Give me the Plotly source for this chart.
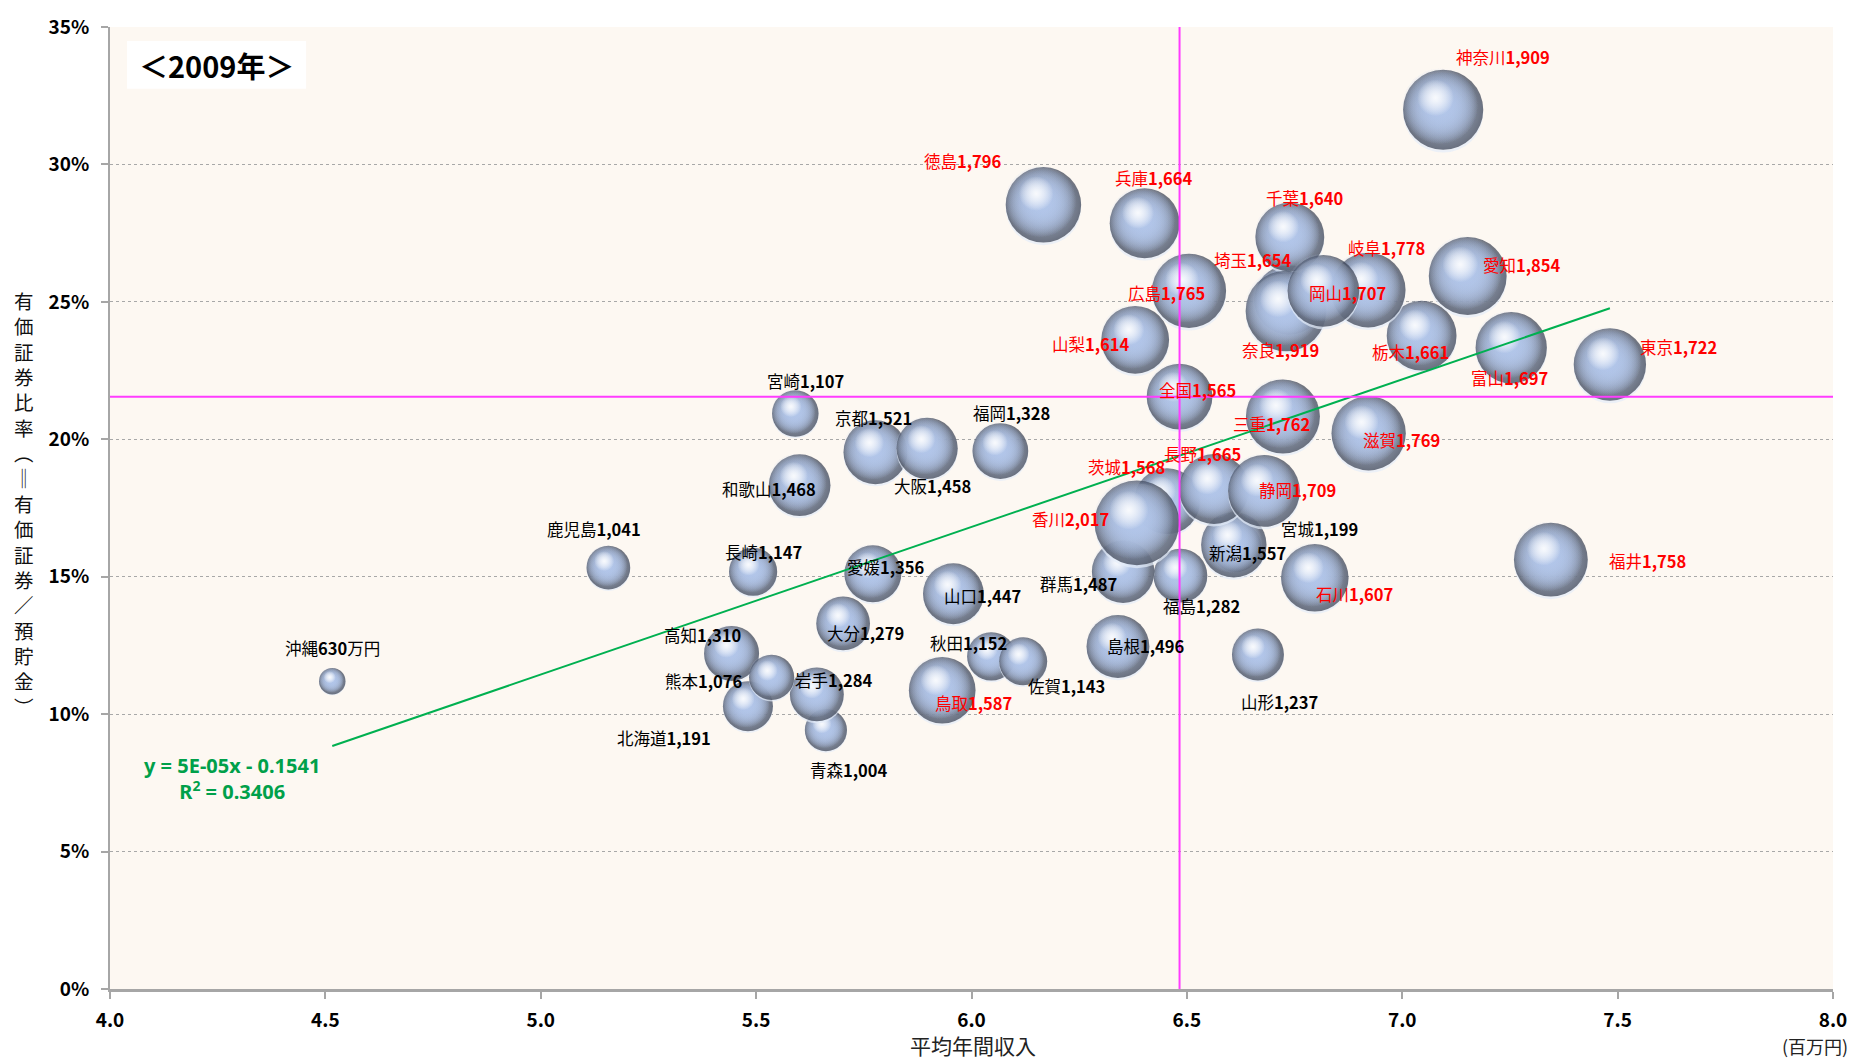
import plotly.graph_objects as go

# ---- data (2009, by prefecture, JIS order) ----
PREFS = ["北海道", "青森", "岩手", "宮城", "秋田", "山形", "福島", "茨城", "栃木", "群馬",
         "埼玉", "千葉", "東京", "神奈川", "新潟", "富山", "石川", "福井", "山梨", "長野",
         "岐阜", "静岡", "愛知", "三重", "滋賀", "京都", "大阪", "兵庫", "奈良", "和歌山",
         "鳥取", "島根", "岡山", "広島", "山口", "徳島", "香川", "愛媛", "高知", "福岡",
         "佐賀", "長崎", "熊本", "大分", "宮崎", "鹿児島", "沖縄"]

# average annual income (百万円)
INCOME = [5.481, 5.662, 5.641, 6.614, 6.046, 6.665, 6.485, 6.454, 7.045, 6.352,
          6.737, 6.739, 7.482, 7.095, 6.609, 7.253, 6.797, 7.345, 6.380, 6.563,
          6.921, 6.679, 7.152, 6.723, 6.922, 5.777, 5.897, 6.402, 6.730, 5.601,
          5.932, 6.340, 6.817, 6.505, 5.958, 6.167, 6.384, 5.771, 5.443, 6.067,
          6.120, 5.493, 5.536, 5.702, 5.591, 5.157, 4.516]

# securities ratio (= securities / savings)
SEC_RATIO = [0.1029, 0.0942, 0.1072, 0.1609, 0.1210, 0.1217, 0.1504, 0.1775, 0.2377, 0.1518,
             0.2507, 0.2736, 0.2272, 0.3199, 0.1616, 0.2333, 0.1496, 0.1562, 0.2362, 0.1819,
             0.2543, 0.1812, 0.2594, 0.2083, 0.2022, 0.1953, 0.1967, 0.2786, 0.2467, 0.1833,
             0.1087, 0.1246, 0.2540, 0.2540, 0.1438, 0.2853, 0.1696, 0.1511, 0.1221, 0.1957,
             0.1192, 0.1518, 0.1134, 0.1330, 0.2094, 0.1533, 0.1120]

# savings (万円) -> bubble size
SAVINGS = [1191, 1004, 1284, 1199, 1152, 1237, 1282, 1568, 1661, 1487,
           1654, 1640, 1722, 1909, 1557, 1697, 1607, 1758, 1614, 1665,
           1778, 1709, 1854, 1762, 1769, 1521, 1458, 1664, 1919, 1468,
           1587, 1496, 1707, 1765, 1447, 1796, 2017, 1356, 1310, 1328,
           1143, 1147, 1076, 1279, 1107, 1041, 630]

NATIONAL_NAME = "全国"
NATIONAL_INCOME = 6.483
NATIONAL_RATIO = 0.2155
NATIONAL_SAVINGS = 1565

YEAR_TITLE = "＜2009年＞"
X_TITLE = "平均年間収入"
X_UNIT = "(百万円)"
Y_TITLE = "有価証券比率（＝有価証券／預貯金）"

# linear trendline (x in 千円), as reported by the spreadsheet fit
TREND_SLOPE = 5.37e-05
TREND_INTERCEPT = -0.1541
TREND_R2 = 0.3406

# ---- layout geometry ----
W, H = 1863, 1062
MARGIN = dict(l=110, r=30, t=23, b=73)
X_RANGE = (4.0, 8.0)
Y_RANGE = (0.0, 0.35)
PX_PER_X = (W - MARGIN["l"] - MARGIN["r"]) / (X_RANGE[1] - X_RANGE[0])
PX_PER_Y = (H - MARGIN["t"] - MARGIN["b"]) / (Y_RANGE[1] - Y_RANGE[0])
PX_PER_SAVING = 0.042          # bubble diameter in px per 万円

LABEL_FONT = "Noto Sans CJK JP"
RED, BLACK = "#FF0000", "#000000"

# label offsets from the bubble centre, in px (x right, y down)
LABEL_OFFSET = {
    "北海道": (-84, 32), "青森": (23, 40), "岩手": (17, -14), "宮城": (84, -18),
    "秋田": (-23, -13), "山形": (22, 47), "福島": (21, 30), "茨城": (-41, -34),
    "栃木": (-11, 16), "群馬": (-45, 12), "埼玉": (-36, -40), "千葉": (15, -39),
    "東京": (69, -18), "神奈川": (60, -53), "新潟": (14, 8), "富山": (-2, 30),
    "石川": (40, 16), "福井": (97, 1), "山梨": (-44, 4), "長野": (-12, -35),
    "岐阜": (18, -42), "静岡": (34, -1), "愛知": (54, -11), "三重": (-11, 8),
    "滋賀": (33, 7), "京都": (-2, -34), "大阪": (5, 38), "兵庫": (9, -45),
    "奈良": (-5, 39), "和歌山": (-31, 4), "鳥取": (31, 13), "島根": (28, -1),
    "岡山": (24, 2), "広島": (-23, 2), "山口": (29, 2), "徳島": (-80, -44),
    "香川": (-66, -4), "愛媛": (13, -7), "高知": (-29, -18), "福岡": (11, -38),
    "佐賀": (43, 25), "長崎": (10, -20), "熊本": (-68, 4), "大分": (22, 10),
    "宮崎": (10, -32), "鹿児島": (-14, -39), "沖縄": (0, -33), "全国": (18, -7),
}
LABEL_SUFFIX = {"沖縄": "万円"}

# sphere shading: (size factor, dx factor, dy factor (down), edge colour, centre colour, gradient)
BODY = "178,198,234"
SPHERE_LAYERS = [
    (1.00, 0.000, 0.035, "#E4ECF9", "#E4ECF9", "none"),
    (1.00, 0.000, 0.000, "#323A4C", "#9CB0D4", "radial"),
    (0.95, -0.040, -0.045, f"rgba({BODY},0)", f"rgba({BODY},1)", "radial"),
    (0.95, -0.040, -0.045, f"rgba({BODY},0)", f"rgba({BODY},1)", "radial"),
    (0.95, -0.040, -0.045, f"rgba({BODY},0)", f"rgba({BODY},1)", "radial"),
    (0.95, -0.040, -0.045, f"rgba({BODY},0)", f"rgba({BODY},1)", "radial"),
    (0.46, -0.095, -0.150, "rgba(255,255,255,0)", "rgba(255,255,255,1)", "radial"),
    (0.46, -0.095, -0.150, "rgba(255,255,255,0)", "rgba(255,255,255,1)", "radial"),
]

names = [NATIONAL_NAME] + PREFS
xs = [NATIONAL_INCOME] + INCOME
ys = [NATIONAL_RATIO] + SEC_RATIO
vals = [NATIONAL_SAVINGS] + SAVINGS

bx, by, bsize, bcolor, bgcol, btype = [], [], [], [], [], []
for x, y, v in zip(xs, ys, vals):
    d = v * PX_PER_SAVING
    for f, fx, fy, edge, centre, gtype in SPHERE_LAYERS:
        bx.append(x + fx * d / PX_PER_X)
        by.append(y - fy * d / PX_PER_Y)
        bsize.append(d * f)
        bcolor.append(edge)
        bgcol.append(centre)
        btype.append(gtype)

fig = go.Figure()
fig.add_trace(go.Scatter(
    x=bx, y=by, mode="markers", hoverinfo="skip", showlegend=False,
    marker=dict(size=bsize, sizemode="diameter", color=bcolor,
                line=dict(width=0),
                gradient=dict(type=btype, color=bgcol)),
))

# trendline over the prefecture range
tx = [min(INCOME), max(INCOME)]
ty = [TREND_SLOPE * v * 1000 + TREND_INTERCEPT for v in tx]
fig.add_trace(go.Scatter(x=tx, y=ty, mode="lines", hoverinfo="skip", showlegend=False,
                         line=dict(color="#00B050", width=2)))

annotations = []
for name, x, y, v in zip(names, xs, ys, vals):
    dx, dy = LABEL_OFFSET[name]
    colour = RED if v >= NATIONAL_SAVINGS else BLACK
    text = f"{name}<b>{v:,}</b>{LABEL_SUFFIX.get(name, '')}"
    annotations.append(dict(x=x, y=y, xref="x", yref="y", text=text, showarrow=False,
                            xshift=dx, yshift=-dy, xanchor="center", yanchor="middle",
                            font=dict(family=LABEL_FONT, size=16.5, color=colour)))

# trend equation
sign = "-" if TREND_INTERCEPT < 0 else "+"
eq = f"y = {TREND_SLOPE:.0E}x {sign} {abs(TREND_INTERCEPT):.4f}<br>R<sup>2</sup> = {TREND_R2:.4f}"
annotations.append(dict(x=0.0706, y=0.2189, xref="paper", yref="paper", text=eq,
                        showarrow=False, align="center", xanchor="center", yanchor="middle",
                        font=dict(family="Noto Sans", size=20, color="#00A04A", weight="bold")))

# year title
annotations.append(dict(x=0.0618, y=0.9602, xref="paper", yref="paper", text=YEAR_TITLE,
                        showarrow=False, xanchor="center", yanchor="middle",
                        font=dict(family=LABEL_FONT, size=29, color="black", weight="bold")))

# axis titles
annotations.append(dict(x=0.5009, y=-0.0585, xref="paper", yref="paper", text=X_TITLE,
                        showarrow=False, xanchor="center", yanchor="middle", borderpad=0,
                        font=dict(family=LABEL_FONT, size=21, color="#222")))
annotations.append(dict(x=0.9895, y=-0.0590, xref="paper", yref="paper", text=X_UNIT,
                        showarrow=False, xanchor="center", yanchor="middle", borderpad=0,
                        font=dict(family=LABEL_FONT, size=18, color="#222")))
vertical = {"（": "︵", "）": "︶", "＝": "‖"}
y_title = "<br>".join(vertical.get(c, c) for c in Y_TITLE)
annotations.append(dict(x=-0.0499, y=0.505, xref="paper", yref="paper", text=y_title,
                        showarrow=False, xanchor="center", yanchor="middle",
                        font=dict(family=LABEL_FONT, size=19.5, color="#111")))

shapes = [
    # white box behind the year title
    dict(type="rect", xref="paper", yref="paper", x0=0.0099, x1=0.1138, y0=0.9358, y1=0.9855,
         fillcolor="white", line=dict(width=0), layer="below"),
    # national average cross-hair
    dict(type="line", xref="x", yref="y", x0=NATIONAL_INCOME, x1=NATIONAL_INCOME,
         y0=Y_RANGE[0], y1=Y_RANGE[1], line=dict(color="#FF3CFF", width=2), layer="above"),
    dict(type="line", xref="x", yref="y", x0=X_RANGE[0], x1=X_RANGE[1],
         y0=NATIONAL_RATIO, y1=NATIONAL_RATIO, line=dict(color="#FF3CFF", width=2), layer="above"),
]

tick_font = dict(family=LABEL_FONT, size=19, color="black", weight="bold")
fig.update_layout(
    width=W, height=H, margin=MARGIN,
    paper_bgcolor="white", plot_bgcolor="#FDF8F2",
    showlegend=False, annotations=annotations, shapes=shapes,
    xaxis=dict(range=list(X_RANGE), dtick=0.5, tick0=4, tickformat=".1f",
               showgrid=False, zeroline=False, showline=True, linecolor="#A6A6A6", linewidth=3,
               ticks="outside", ticklen=7, tickwidth=2, tickcolor="#A6A6A6",
               tickfont=tick_font, ticklabelstandoff=5),
    yaxis=dict(range=list(Y_RANGE), dtick=0.05, tick0=0, tickformat=".0%",
               showgrid=True, gridcolor="#A8A8A8", griddash="dot", gridwidth=1,
               zeroline=False, showline=True, linecolor="#A6A6A6", linewidth=2,
               ticks="outside", ticklen=7, tickwidth=2, tickcolor="#A6A6A6",
               tickfont=tick_font, ticklabelstandoff=8),
)

fig.write_html("out.html")
